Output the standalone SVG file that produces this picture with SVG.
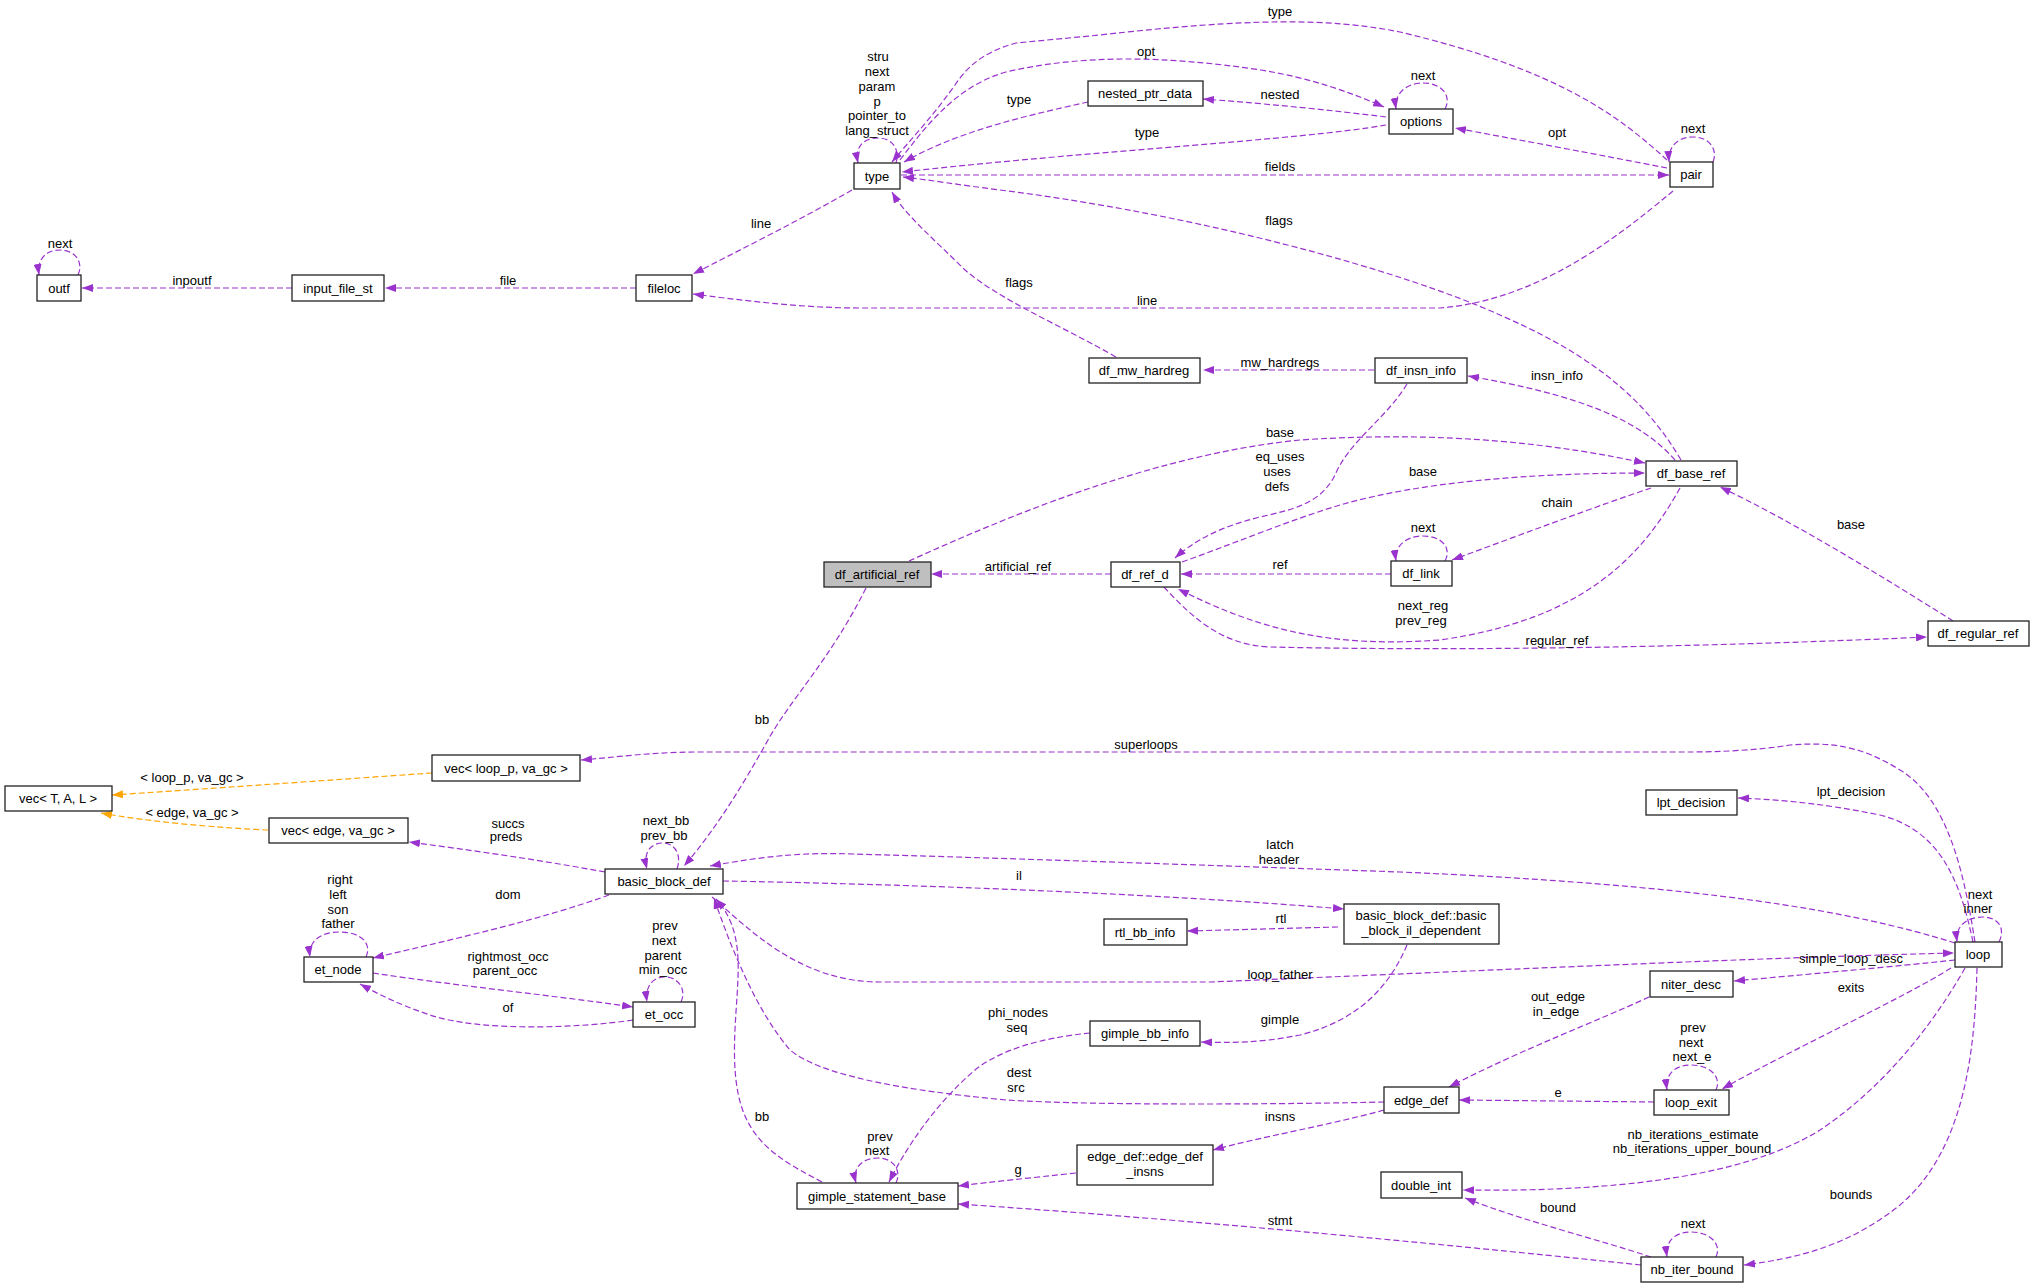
<svg xmlns="http://www.w3.org/2000/svg" width="2035" height="1288" viewBox="0 0 2035 1288">
<style>
text{font-family:"Liberation Sans",Arial,sans-serif;font-size:13px;fill:#000;text-anchor:middle}
.n rect{fill:#fff;stroke:#222;stroke-width:1.3}
.root rect{fill:#bfbfbf}
.e path{fill:none;stroke:#9a32cd;stroke-width:1.2;stroke-dasharray:6,3;marker-end:url(#a)}
.e path.o{stroke:#ffa500;marker-end:url(#b)}
</style>
<defs>
<marker id="a" viewBox="0 0 10 10" refX="10" refY="5" markerWidth="11" markerHeight="8" orient="auto" markerUnits="userSpaceOnUse" preserveAspectRatio="none"><path d="M0,0 L10,5 L0,10 z" fill="#9a32cd"/></marker>
<marker id="b" viewBox="0 0 10 10" refX="10" refY="5" markerWidth="11" markerHeight="8" orient="auto" markerUnits="userSpaceOnUse" preserveAspectRatio="none"><path d="M0,0 L10,5 L0,10 z" fill="#ffa500"/></marker>
</defs>
<rect width="2035" height="1288" fill="#fff"/>
<g id="edges" class="e">
<path d="M78,275 C84,262 75,250 60,250 C45,250 37,260 39,275"/>
<path d="M292,288 L82,288"/>
<path d="M636,288 L385,288"/>
<path d="M852,190 C800,220 740,250 693,274"/>
<path d="M1673,191 C1620,235 1540,300 1440,308 L860,308 C800,308 740,300 693,294"/>
<path d="M896,163 C900,150 893,138 878,138 C862,138 855,148 858,163"/>
<path d="M1667,160 C1620,117 1560,70 1400,32 C1330,18 1250,18 1100,35 L1016,43 C990,50 970,62 955,85 C930,120 910,140 892,162"/>
<path d="M900,160 C930,120 960,85 1006,72 C1080,55 1160,55 1261,70 C1310,78 1350,92 1384,107"/>
<path d="M1088,102 C1030,115 960,130 904,162"/>
<path d="M1386,117 C1330,110 1270,104 1203,99"/>
<path d="M1445,109 C1452,96 1442,83 1423,83 C1405,83 1394,95 1396,109"/>
<path d="M1386,125 C1300,140 1100,150 902,172"/>
<path d="M901,175 L1669,175"/>
<path d="M1667,168 C1600,155 1520,140 1455,128"/>
<path d="M1713,162 C1718,150 1710,137 1693,137 C1676,137 1668,148 1669,162"/>
<path d="M1116,357 C1060,325 1000,300 965,270 C935,240 905,215 892,192"/>
<path d="M1681,460 C1640,390 1580,350 1500,315 C1400,270 1200,215 1000,190 C960,185 930,180 903,177"/>
<path d="M1374,370 L1203,370"/>
<path d="M1675,460 C1640,420 1580,395 1468,376"/>
<path d="M1407,384 C1385,420 1350,440 1335,475 C1320,505 1290,510 1260,517 C1220,527 1195,540 1175,558"/>
<path d="M909,561 C1000,520 1150,455 1300,440 C1450,430 1560,445 1645,463"/>
<path d="M1182,562 C1230,545 1290,520 1340,505 C1420,482 1530,473 1645,473"/>
<path d="M1651,488 C1600,505 1520,535 1452,560"/>
<path d="M1445,561 C1452,548 1442,536 1423,536 C1405,536 1394,547 1396,561"/>
<path d="M1391,574 L1181,574"/>
<path d="M1680,488 C1640,560 1580,620 1440,640 C1330,648 1260,630 1178,589"/>
<path d="M1164,587 C1190,615 1220,645 1270,647 C1500,652 1750,645 1927,637"/>
<path d="M1953,621 C1880,575 1790,520 1720,487"/>
<path d="M1111,574 L931,574"/>
<path d="M866,588 C830,660 790,700 768,740 C740,790 715,830 684,866"/>
<path d="M1975,942 C1965,880 1950,800 1900,770 C1860,745 1830,742 1790,745 C1760,750 1720,752 1690,752 L700,752 C650,752 620,757 581,760"/>
<path class="o" d="M432,773 C330,780 220,788 112,795"/>
<path class="o" d="M268,830 C220,828 150,822 101,813"/>
<path d="M605,872 C540,860 470,850 409,842"/>
<path d="M677,869 C682,855 675,843 663,843 C650,843 643,853 647,869"/>
<path d="M609,895 C540,920 450,940 373,958"/>
<path d="M366,957 C372,944 362,932 339,932 C320,932 308,942 310,957"/>
<path d="M373,973 C450,985 550,995 633,1007"/>
<path d="M633,1020 C580,1028 480,1032 430,1015 C400,1005 380,995 360,984"/>
<path d="M681,1002 C687,989 678,977 665,977 C652,977 645,987 647,1002"/>
<path d="M723,881 C900,884 1150,893 1344,909"/>
<path d="M1955,943 C1850,910 1700,885 1400,872 C1200,865 1000,858 853,854 C800,852 760,857 710,866"/>
<path d="M1338,927 L1187,931"/>
<path d="M712,897 C750,930 800,982 880,982 L1210,982 C1500,970 1750,958 1954,953"/>
<path d="M1407,945 C1390,985 1360,1020 1300,1035 C1260,1043 1230,1043 1201,1042"/>
<path d="M1973,942 C1960,880 1940,830 1880,815 C1830,805 1790,800 1738,798"/>
<path d="M1999,942 C2006,928 1998,917 1983,917 C1968,917 1955,925 1957,942"/>
<path d="M1955,960 C1900,966 1800,975 1734,981"/>
<path d="M1951,968 C1900,1000 1800,1045 1722,1089"/>
<path d="M1649,997 C1600,1020 1520,1050 1449,1087"/>
<path d="M1716,1090 C1722,1077 1710,1065 1691,1065 C1674,1065 1665,1075 1667,1090"/>
<path d="M1654,1102 L1459,1100"/>
<path d="M1384,1110 C1330,1125 1260,1137 1213,1150"/>
<path d="M1384,1102 C1300,1104 1100,1106 1006,1100 C900,1090 820,1075 790,1050 C760,1015 735,960 714,898"/>
<path d="M822,1182 C790,1165 760,1150 745,1116 C725,1070 740,1000 738,960 C737,930 728,912 716,899"/>
<path d="M1090,1033 C1040,1038 1000,1050 975,1070 C940,1100 910,1140 889,1182"/>
<path d="M896,1183 C902,1170 893,1158 878,1158 C862,1158 852,1168 856,1183"/>
<path d="M1076,1173 C1030,1178 990,1182 958,1186"/>
<path d="M1641,1265 C1500,1250 1200,1220 958,1204"/>
<path d="M1965,968 C1930,1030 1880,1090 1820,1130 C1740,1180 1600,1192 1463,1190"/>
<path d="M1977,968 C1975,1050 1965,1150 1900,1205 C1850,1245 1800,1258 1744,1265"/>
<path d="M1651,1257 C1600,1240 1520,1220 1465,1198"/>
<path d="M1716,1257 C1722,1244 1710,1232 1691,1232 C1674,1232 1665,1242 1667,1257"/>
</g>
<g id="labels">
<text x="60" y="247.5">next</text>
<text x="192" y="284.5">inpoutf</text>
<text x="508" y="284.5">file</text>
<text x="878" y="61.2">stru</text>
<text x="877" y="76">next</text>
<text x="877" y="90.8">param</text>
<text x="877" y="105.6">p</text>
<text x="877" y="120.4">pointer_to</text>
<text x="877" y="135.2">lang_struct</text>
<text x="1280" y="16">type</text>
<text x="1146" y="56">opt</text>
<text x="1019" y="104">type</text>
<text x="1280" y="99">nested</text>
<text x="1423" y="80">next</text>
<text x="1147" y="137">type</text>
<text x="1280" y="170.5">fields</text>
<text x="1279" y="225">flags</text>
<text x="761" y="228">line</text>
<text x="1693" y="133">next</text>
<text x="1557" y="137">opt</text>
<text x="1019" y="287">flags</text>
<text x="1147" y="305">line</text>
<text x="1280" y="367">mw_hardregs</text>
<text x="1557" y="379.5">insn_info</text>
<text x="1280" y="437">base</text>
<text x="1280" y="461">eq_uses</text>
<text x="1277" y="476">uses</text>
<text x="1277" y="491">defs</text>
<text x="1423" y="476">base</text>
<text x="1557" y="507">chain</text>
<text x="1851" y="529">base</text>
<text x="1423" y="532">next</text>
<text x="1018" y="571">artificial_ref</text>
<text x="1280" y="569">ref</text>
<text x="1423" y="609.5">next_reg</text>
<text x="1421" y="624.5">prev_reg</text>
<text x="1557" y="645">regular_ref</text>
<text x="762" y="724">bb</text>
<text x="1146" y="748.5">superloops</text>
<text x="192" y="782">&lt; loop_p, va_gc &gt;</text>
<text x="1851" y="796">lpt_decision</text>
<text x="192" y="817">&lt; edge, va_gc &gt;</text>
<text x="666" y="825">next_bb</text>
<text x="664" y="840">prev_bb</text>
<text x="508" y="827.5">succs</text>
<text x="506" y="841">preds</text>
<text x="1280" y="849">latch</text>
<text x="1279" y="864">header</text>
<text x="1019" y="879.5">il</text>
<text x="340" y="884">right</text>
<text x="338" y="899">left</text>
<text x="338" y="913.5">son</text>
<text x="338" y="928">father</text>
<text x="508" y="899">dom</text>
<text x="1980" y="899">next</text>
<text x="1978" y="913">inner</text>
<text x="1281" y="923">rtl</text>
<text x="665" y="929.5">prev</text>
<text x="664" y="944.5">next</text>
<text x="663" y="959.5">parent</text>
<text x="663" y="973.5">min_occ</text>
<text x="508" y="960.5">rightmost_occ</text>
<text x="505" y="975">parent_occ</text>
<text x="1851" y="963">simple_loop_desc</text>
<text x="1280" y="979">loop_father</text>
<text x="1851" y="992">exits</text>
<text x="1558" y="1001">out_edge</text>
<text x="1556" y="1016">in_edge</text>
<text x="508" y="1012">of</text>
<text x="1018" y="1017">phi_nodes</text>
<text x="1017" y="1032">seq</text>
<text x="1280" y="1023.5">gimple</text>
<text x="1693" y="1032">prev</text>
<text x="1691" y="1047">next</text>
<text x="1692" y="1061">next_e</text>
<text x="1019" y="1077">dest</text>
<text x="1016" y="1092">src</text>
<text x="1558" y="1096.5">e</text>
<text x="762" y="1121">bb</text>
<text x="1280" y="1121">insns</text>
<text x="1693" y="1139">nb_iterations_estimate</text>
<text x="1692" y="1153">nb_iterations_upper_bound</text>
<text x="880" y="1140.5">prev</text>
<text x="877" y="1155">next</text>
<text x="1018" y="1174">g</text>
<text x="1851" y="1199">bounds</text>
<text x="1558" y="1212">bound</text>
<text x="1280" y="1224.5">stmt</text>
<text x="1693" y="1228">next</text>
</g>
<g id="outf" class="n"><rect x="37" y="275" width="44" height="26"/><text x="59" y="292.5">outf</text></g>
<g id="input_file_st" class="n"><rect x="292" y="275" width="92" height="26"/><text x="338" y="292.5">input_file_st</text></g>
<g id="fileloc" class="n"><rect x="636" y="275" width="56" height="26"/><text x="664" y="292.5">fileloc</text></g>
<g id="type" class="n"><rect x="854" y="163" width="46" height="26"/><text x="877" y="180.5">type</text></g>
<g id="nested_ptr_data" class="n"><rect x="1088" y="81" width="115" height="25"/><text x="1145" y="98">nested_ptr_data</text></g>
<g id="options" class="n"><rect x="1389" y="109" width="64" height="25"/><text x="1421" y="126">options</text></g>
<g id="pair" class="n"><rect x="1670" y="162" width="43" height="25"/><text x="1691" y="179">pair</text></g>
<g id="df_mw_hardreg" class="n"><rect x="1089" y="358" width="111" height="25"/><text x="1144" y="375">df_mw_hardreg</text></g>
<g id="df_insn_info" class="n"><rect x="1375" y="358" width="92" height="25"/><text x="1421" y="375">df_insn_info</text></g>
<g id="df_base_ref" class="n"><rect x="1646" y="461" width="91" height="25"/><text x="1691" y="478">df_base_ref</text></g>
<g id="df_artificial_ref" class="n root"><rect x="824" y="562" width="107" height="25"/><text x="877" y="579">df_artificial_ref</text></g>
<g id="df_ref_d" class="n"><rect x="1111" y="562" width="69" height="25"/><text x="1145" y="579">df_ref_d</text></g>
<g id="df_link" class="n"><rect x="1391" y="561" width="61" height="25"/><text x="1421" y="578">df_link</text></g>
<g id="df_regular_ref" class="n"><rect x="1928" y="621" width="101" height="25"/><text x="1978" y="638">df_regular_ref</text></g>
<g id="vec_T_A_L" class="n"><rect x="5" y="786" width="107" height="25"/><text x="58" y="803">vec&lt; T, A, L &gt;</text></g>
<g id="vec_loop_p" class="n"><rect x="432" y="755" width="148" height="26"/><text x="506" y="772.5">vec&lt; loop_p, va_gc &gt;</text></g>
<g id="vec_edge" class="n"><rect x="269" y="818" width="139" height="25"/><text x="338" y="835">vec&lt; edge, va_gc &gt;</text></g>
<g id="lpt_decision" class="n"><rect x="1646" y="790" width="91" height="25"/><text x="1691" y="807">lpt_decision</text></g>
<g id="basic_block_def" class="n"><rect x="605" y="869" width="118" height="25"/><text x="664" y="886">basic_block_def</text></g>
<g id="basic_block_il_dependent" class="n"><rect x="1344" y="904" width="155" height="40"/><text x="1421" y="920">basic_block_def::basic</text><text x="1421" y="935">_block_il_dependent</text></g>
<g id="rtl_bb_info" class="n"><rect x="1104" y="919" width="83" height="26"/><text x="1145" y="936.5">rtl_bb_info</text></g>
<g id="et_node" class="n"><rect x="304" y="957" width="69" height="25"/><text x="338" y="974">et_node</text></g>
<g id="et_occ" class="n"><rect x="633" y="1002" width="62" height="25"/><text x="664" y="1019">et_occ</text></g>
<g id="loop" class="n"><rect x="1955" y="942" width="47" height="25"/><text x="1978" y="959">loop</text></g>
<g id="niter_desc" class="n"><rect x="1650" y="971" width="83" height="26"/><text x="1691" y="988.5">niter_desc</text></g>
<g id="gimple_bb_info" class="n"><rect x="1090" y="1021" width="110" height="25"/><text x="1145" y="1038">gimple_bb_info</text></g>
<g id="edge_def" class="n"><rect x="1384" y="1087" width="75" height="26"/><text x="1421" y="1104.5">edge_def</text></g>
<g id="loop_exit" class="n"><rect x="1654" y="1090" width="75" height="25"/><text x="1691" y="1107">loop_exit</text></g>
<g id="edge_def_insns" class="n"><rect x="1077" y="1145" width="136" height="40"/><text x="1145" y="1161">edge_def::edge_def</text><text x="1145" y="1176">_insns</text></g>
<g id="double_int" class="n"><rect x="1381" y="1172" width="81" height="26"/><text x="1421" y="1189.5">double_int</text></g>
<g id="gimple_statement_base" class="n"><rect x="797" y="1183" width="161" height="26"/><text x="877" y="1200.5">gimple_statement_base</text></g>
<g id="nb_iter_bound" class="n"><rect x="1641" y="1257" width="102" height="25"/><text x="1692" y="1274">nb_iter_bound</text></g>
</svg>
